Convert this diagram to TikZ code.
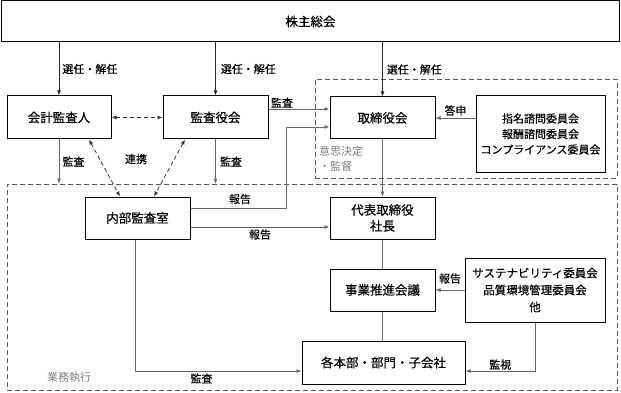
\documentclass[tikz,border=0pt]{standalone}
\usepackage{fontspec}
\setmainfont{Noto Sans CJK JP}[FakeBold=0.4]
\newfontfamily\jplight{Noto Sans CJK JP}
\usetikzlibrary{positioning, arrows.meta, calc}

\begin{document}
\begin{tikzpicture}[
      x=1pt, y=-1pt,
      font=\fontsize{12.5}{15}\selectfont,
      box/.style={rectangle, draw=black, line width=1pt, fill=white, align=center,
                  minimum width=105pt, minimum height=42pt, inner sep=2pt},
      group/.style={rectangle, draw=black!65, dash pattern=on 5pt off 3pt,
                    line width=0.8pt, inner sep=0pt},
      arrow/.style={-{Latex[length=5pt, width=4pt]}, line width=0.8pt, draw=black!60},
      conn/.style={line width=0.8pt, draw=black!60},
      link/.style={{Latex[length=5pt, width=4pt]}-{Latex[length=5pt, width=4pt]},
                   line width=0.8pt, draw=black!80, dash pattern=on 4pt off 3pt},
      lbl/.style={font=\fontsize{11}{13}\selectfont, inner sep=1pt},
      note/.style={font=\jplight\fontsize{11}{15}\selectfont, text=black!50, align=left, inner sep=0pt}
  ]
  \useasboundingbox (0,0) rectangle (621,393);

  % dashed areas
  \node[group, minimum width=302pt, minimum height=99pt]  (gov)  at (466,128.5) {};
  \node[group, minimum width=610pt, minimum height=206pt] (exec) at (312,287)   {};
  \node[note, anchor=north west] (govlbl)  at (319,146) {意思決定\\・監督};
  \node[note]                    (execlbl) at (69,377)  {業務執行};

  \node[box, minimum width=618pt, minimum height=41pt] (gm) at (310.5,21.5) {株主総会};
  \node[box, minimum width=104pt, minimum height=43pt] (auditor) at (59,117.5)    {会計監査人};
  \node[box, minimum height=43pt]                      (abd)     at (215.5,117.5)  {監査役会};
  \node[box]                                           (board)   at (382.5,118)    {取締役会};
  \node[box, minimum width=129pt, minimum height=76pt,
        font=\fontsize{11}{15.5}\selectfont]           (comm)    at (540.5,134)    {指名諮問委員会\\報酬諮問委員会\\コンプライアンス委員会};
  \node[box]                                           (ia)      at (137.5,218)    {内部監査室};
  \node[box, font=\fontsize{12.5}{16}\selectfont]      (ceo)     at (382.5,218)    {代表取締役\\社長};
  \node[box]                                           (bm)      at (382.5,290)    {事業推進会議};
  \node[box, minimum width=140pt, minimum height=64pt,
        font=\fontsize{11.5}{17}\selectfont]           (sust)    at (535,290)      {サステナビリティ委員会\\品質環境管理委員会\\他};
  \node[box, minimum width=163pt, minimum height=43pt] (units)   at (383.5,362.5)  {各本部・部門・子会社};

  % appointment
  \draw[arrow, draw=black!85] (gm.south -| auditor.north) -- node[lbl, right, xshift=2pt] {選任・解任} (auditor.north);
  \draw[arrow, draw=black!85] (gm.south -| abd.north) -- node[lbl, right, xshift=4pt] {選任・解任} (abd.north);
  \draw[arrow, draw=black!85] (gm.south -| board.north) -- node[lbl, right, xshift=3pt] {選任・解任} (board.north);

  % audit
  \draw[arrow] ([yshift=8.5pt]abd.east) -- node[lbl, above, pos=0.22] {監査} ([yshift=8.5pt]abd.east -| board.west);
  \draw[arrow] (auditor.south) -- node[lbl, right, xshift=2pt] {監査} (auditor.south |- exec.north);
  \draw[arrow] (abd.south) -- node[lbl, right, xshift=3pt] {監査} (abd.south |- exec.north);
  \draw[link] (auditor.east) -- (abd.west);
  \draw[link] ([xshift=30pt]auditor.south) -- ([xshift=-17.5pt]ia.north);
  \draw[link] ([xshift=-30.5pt]abd.south) -- ([xshift=16.5pt]ia.north);
  \node[lbl] (coop) at (136,159) {連携};

  % reports
  \coordinate (bend) at (286,127);
  \draw[arrow] ([yshift=10pt]ia.east) -| (bend) -- (bend -| board.west);
  \node[lbl] (rep1) at (240,199) {報告};
  \draw[arrow] ([yshift=-9pt]ia.east) -- node[lbl, below, yshift=-1pt] {報告} ([yshift=-9pt]ia.east -| ceo.west);
  \draw[arrow] (comm.west |- board.east) -- node[lbl, above, yshift=1pt] {答申} (board.east);
  \draw[arrow] (sust.west |- bm.east) -- node[lbl, above, yshift=5pt] {報告} (bm.east);

  % execution
  \draw[arrow] (board.south) -- (ceo.north);
  \draw[conn] (ceo.south) -- (bm.north);
  \draw[conn] (bm.south) -- (bm.south |- units.north);
  \draw[arrow] (sust.south) |- node[lbl, above, pos=0.75] {監視} ([yshift=-8.5pt]units.east);
  \draw[arrow] ([xshift=-2.5pt]ia.south) |- node[lbl, below, pos=0.7, yshift=-1pt] {監査} ([yshift=-8.5pt]units.west);
  \end{tikzpicture}
\end{document}
